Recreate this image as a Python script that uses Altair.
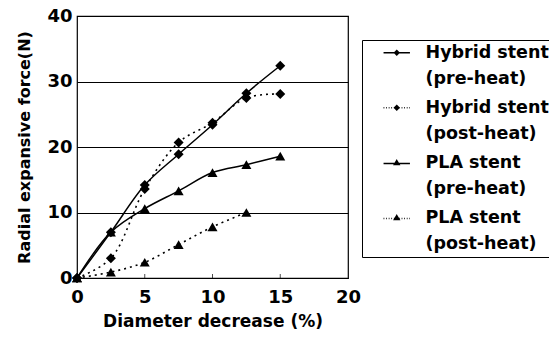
import altair as alt
import pandas as pd

# ---- data ----
x_vals = [0, 2.5, 5, 7.5, 10, 12.5, 15]
hybrid_pre = [0, 7.0, 14.2, 18.9, 23.4, 28.2, 32.4]
hybrid_post = [0, 3.0, 13.6, 20.7, 23.7, 27.5, 28.1]
pla_pre = [0, 7.0, 10.6, 13.3, 16.1, 17.3, 18.6]
pla_post = [0, 0.9, 2.4, 5.1, 7.8, 10.0]
series = ["Hybrid stent|(pre-heat)", "Hybrid stent|(post-heat)",
          "PLA stent|(pre-heat)", "PLA stent|(post-heat)"]
x_ticks = [0, 5, 10, 15, 20]
y_ticks = [0, 10, 20, 30, 40]
inner_ticks = [5, 10, 15]

rows = []
for name, ys in zip(series, [hybrid_pre, hybrid_post, pla_pre, pla_post]):
    for xv, yv in zip(x_vals, ys):
        rows.append({"x": xv, "y": yv, "series": name,
                     "kind": "Hybrid" if name.startswith("Hybrid") else "PLA",
                     "heat": "pre" if "pre-heat" in name else "post"})
df = pd.DataFrame(rows)
tick_df = pd.DataFrame({"x": inner_ticks})

FONT = "DejaVu Sans"

# ---- legend symbol paths (line + marker), drawn with strokes only ----
def solid(y0):
    return f"M-2.2,{y0}L2.2,{y0}"

def dotted(y0, x0=-2.2, x1=2.2, seg=0.13, gap=0.3):
    parts = []
    x = x0
    while x < x1:
        parts.append(f"M{x:.2f},{y0}L{min(x + seg, x1):.2f},{y0}")
        x += seg + gap
    return "".join(parts)

def diamond():
    out = []
    for r in (0.36, 0.24, 0.12):
        out.append(f"M0,{-r}L{r},0L0,{r}L{-r},0Z")
    return "".join(out)

def triangle():
    out = []
    for r in (0.36, 0.24, 0.12):
        out.append(f"M0,{-r:.3f}L{r * 1.1:.3f},{r * 0.85:.3f}L{-r * 1.1:.3f},{r * 0.85:.3f}Z")
    return "".join(out)

legend_shapes = [solid(0) + diamond(), dotted(0) + diamond(),
                 solid(0.12) + triangle(), dotted(0.12) + triangle()]

xs = alt.Scale(domain=[0, 20], nice=False)
ys = alt.Scale(domain=[0, 40], nice=False)
X = alt.X("x:Q", scale=xs,
          axis=alt.Axis(values=x_ticks, title="Diameter decrease (%)"))
Y = alt.Y("y:Q", scale=ys,
          axis=alt.Axis(values=y_ticks, title="Radial expansive force(N)"))

base = alt.Chart(df)

lines_solid = base.transform_filter(alt.datum.heat == "pre").mark_line(
    color="black", strokeWidth=1.5, interpolate="catmull-rom").encode(
    x=X, y=Y, detail="series:N")
lines_dot = base.transform_filter(alt.datum.heat == "post").mark_line(
    color="black", strokeWidth=1.6, strokeDash=[2, 4], interpolate="catmull-rom").encode(
    x=X, y=Y, detail="series:N")

pts_h = base.transform_filter(alt.datum.kind == "Hybrid").mark_point(
    shape="diamond", filled=True, color="black", size=100, opacity=1).encode(x=X, y=Y)
pts_p = base.transform_filter(alt.datum.kind == "PLA").mark_point(
    shape="triangle-up", filled=True, color="black", size=100, opacity=1).encode(x=X, y=Y)

legend_layer = base.mark_point(filled=False, color="black", strokeWidth=1.5,
                               opacity=0.001).encode(
    x=X, y=Y,
    shape=alt.Shape("series:N", scale=alt.Scale(domain=series, range=legend_shapes),
        legend=alt.Legend(
            title=None, orient="none", legendX=285, legendY=24,
            labelExpr="split(datum.label, '|')",
            labelFont=FONT, labelFontSize=17.5, labelFontWeight="bold", labelColor="black",
            labelLimit=300, labelOffset=20,
            symbolSize=144, symbolOpacity=1, symbolFillColor="black",
            symbolStrokeColor="black", symbolStrokeWidth=1.5, symbolOffset=22,
            strokeColor="black", fillColor="white", padding=4, rowPadding=10,
        )),
)

ticks = alt.Chart(tick_df).mark_tick(color="black", size=8, thickness=1,
                                     orient="vertical", clip=True).encode(
    x=alt.X("x:Q", scale=xs), y=alt.datum(0))

chart = alt.layer(lines_solid, lines_dot, pts_h, pts_p, legend_layer, ticks).properties(
    width=271, height=262,
    autosize=alt.AutoSizeParams(type="none"),
    padding={"left": 69, "top": 8, "right": 201, "bottom": 54},
).configure(
    style={"guide-label": {"lineHeight": 26}}
).configure_view(stroke="black", strokeWidth=1.2).configure_axis(
    labelFont=FONT, labelFontSize=18, labelFontWeight="bold", labelColor="black",
    titleFont=FONT, titleFontWeight="bold", titleColor="black",
    ticks=False, domain=False, labelFlush=False,
).configure_axisY(
    grid=True, gridColor="black", gridWidth=1, gridOpacity=1,
    labelPadding=5, titlePadding=14, titleFontSize=16,
).configure_axisX(
    grid=False, labelPadding=10, titlePadding=7, titleFontSize=17,
)

chart.save("out.html", embed_options={"renderer": "svg", "actions": False})
